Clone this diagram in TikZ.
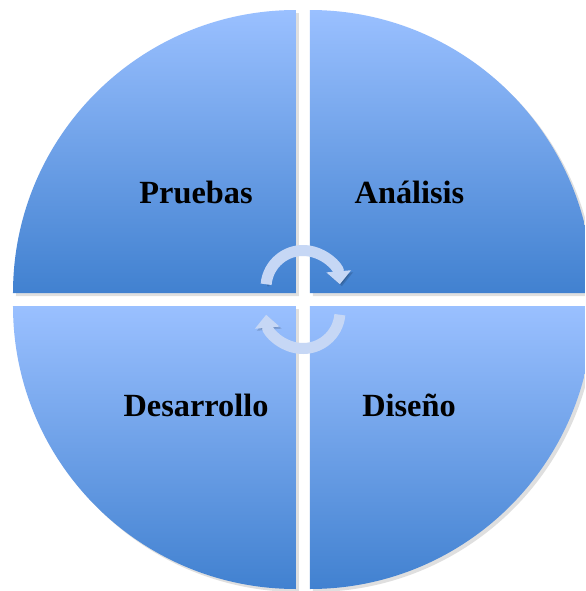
\documentclass[tikz,border=0pt]{standalone}
\usepackage{fontspec}
\setmainfont{Liberation Serif}
\usetikzlibrary{arrows.meta,shadows}
\definecolor{azulclaro}{HTML}{9AC0FF}
\definecolor{azuloscuro}{HTML}{4181D0}
\definecolor{blancoazul}{HTML}{C6D7F5}
\tikzset{
	cuadrante/.style={top color=azulclaro,bottom color=azuloscuro,
		drop shadow={shadow xshift=0.03cm,shadow yshift=-0.03cm,opacity=0.25}},
	etiqueta/.style={font=\fontsize{9.2}{11}\selectfont\bfseries,anchor=base,inner sep=0pt},
	flecha/.style={line width=0.11cm,draw=blancoazul,-{Triangle[length=0.13cm,width=0.24cm]},
		preaction={draw=black,opacity=0.15,transform canvas={xshift=0.02cm,yshift=-0.02cm}}}
}
\begin{document}
\begin{tikzpicture}[line width=0.6pt]
		\clip (-3.03,-2.915) rectangle (2.82,2.995);
		\fill[white] (-3.03,-2.915) rectangle (2.82,2.995);
		\path[cuadrante] (-0.07,0.065) -- ++(-2.83,0) arc[start angle=180,end angle=90,radius=2.83] -- cycle;
		\path[cuadrante] (0.07,0.065) -- ++(0,2.83) arc[start angle=90,end angle=0,radius=2.83] -- cycle;
		\path[cuadrante] (-0.07,-0.065) -- ++(-2.83,0) arc[start angle=180,end angle=270,radius=2.83] -- cycle;
		\path[cuadrante] (0.07,-0.065) -- ++(0,-2.83) arc[start angle=270,end angle=360,radius=2.83] -- cycle;
		\node[etiqueta] (pruebas) at (-1.07,0.965) {Pruebas};
		\node[etiqueta] (analisis) at (1.065,0.965) {Análisis};
		\node[etiqueta] (desarrollo) at (-1.07,-1.165) {Desarrollo};
		\node[etiqueta] (diseno) at (1.06,-1.165) {Diseño};
		\draw[flecha] (0,0.12) ++(175:0.37) arc[start angle=175,end angle=5,radius=0.37];
		\draw[flecha] (0,-0.12) ++(-5:0.37) arc[start angle=-5,end angle=-175,radius=0.37];
\end{tikzpicture}
\end{document}
